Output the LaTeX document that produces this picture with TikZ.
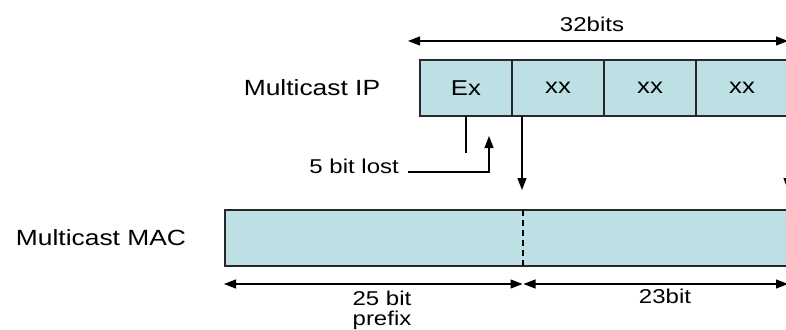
\documentclass[tikz,border=0pt]{standalone}
\usepackage{fontspec}
\setmainfont{Liberation Sans}
\usetikzlibrary{arrows.meta}
\definecolor{cellfill}{RGB}{188,224,227}
\definecolor{cellline}{RGB}{40,40,40}
\newcommand{\lbl}[2]{\scalebox{1.2}[1]{\fontsize{#1}{#1}\selectfont #2}}
\tikzset{
  cell/.style={draw=cellline, line width=1.4pt, fill=cellfill, minimum height=56pt, inner sep=0pt, anchor=center},
  ipcell/.style={cell, minimum width=92pt},
  txt/.style={inner sep=0pt, align=center, text=black},
  wire/.style={line width=1.2pt, draw=black},
  arr/.style={wire, -{Triangle[length=12pt,width=9pt]}},
  dim/.style={wire, {Triangle[length=12pt,width=9pt]}-{Triangle[length=12pt,width=9pt]}}
}
\begin{document}
\begin{tikzpicture}[x=1pt,y=-1pt]
\useasboundingbox (0,0) rectangle (786,329);
\clip (0,0) rectangle (786,329);

% address fields of the multicast IP address
\node[ipcell] (ex) at (466,88) {\lbl{21.5}{Ex}};
\node[ipcell] (b2) at (558,88) {\lbl{21.5}{xx}};
\node[ipcell] (b3) at (650,88) {\lbl{21.5}{xx}};
\node[ipcell] (b4) at (742,88) {\lbl{21.5}{xx}};
\node[txt] (iplabel) at (312,88) {\lbl{22}{Multicast IP}};

% width of the IP address
\coordinate (w32l) at (408,41);
\coordinate (w32r) at (788,41);
\draw[dim] (w32l) -- (w32r);
\node[txt] (w32) at (592,24) {\lbl{20}{32bits}};

% MAC address field
\node[cell, minimum width=580pt] (mac) at (515,238) {};
\node[txt] (maclabel) at (101,238) {\lbl{22}{Multicast MAC}};
\coordinate (splitT) at (523,210);
\coordinate (splitB) at (523,266);
\draw[line width=1.2pt, dash pattern=on 6pt off 4pt] (splitT) -- (splitB);

% lost bits
\coordinate (exdrop) at (466,116);
\coordinate (exend) at (466,153);
\draw[wire] (exdrop) -- (exend);
\node[txt, anchor=east] (lost) at (399,166) {\lbl{20}{5 bit lost}};
\coordinate (lostA) at (408,172);
\coordinate (lostB) at (489,172);
\coordinate (lostC) at (489,136);
\draw[arr] (lostA) -- (lostB) -- (lostC);

% mapped bits
\coordinate (mapL0) at (522,116);
\coordinate (mapL1) at (522,190);
\draw[arr] (mapL0) -- (mapL1);
\coordinate (mapR0) at (788,116);
\coordinate (mapR1) at (788,190);
\draw[arr] (mapR0) -- (mapR1);

% widths of the MAC fields
\coordinate (m0) at (224,284);
\coordinate (m1) at (523,284);
\coordinate (m2) at (788,284);
\draw[dim] (m0) -- ([xshift=-0.5pt]m1);
\draw[dim] ([xshift=0.5pt]m1) -- (m2);
\node[txt] (pre1) at (382,298) {\lbl{20}{25 bit}};
\node[txt] (pre2) at (382,320) {\lbl{20}{prefix}};
\node[txt] (w23) at (665,296) {\lbl{20}{23bit}};
\end{tikzpicture}
\end{document}
